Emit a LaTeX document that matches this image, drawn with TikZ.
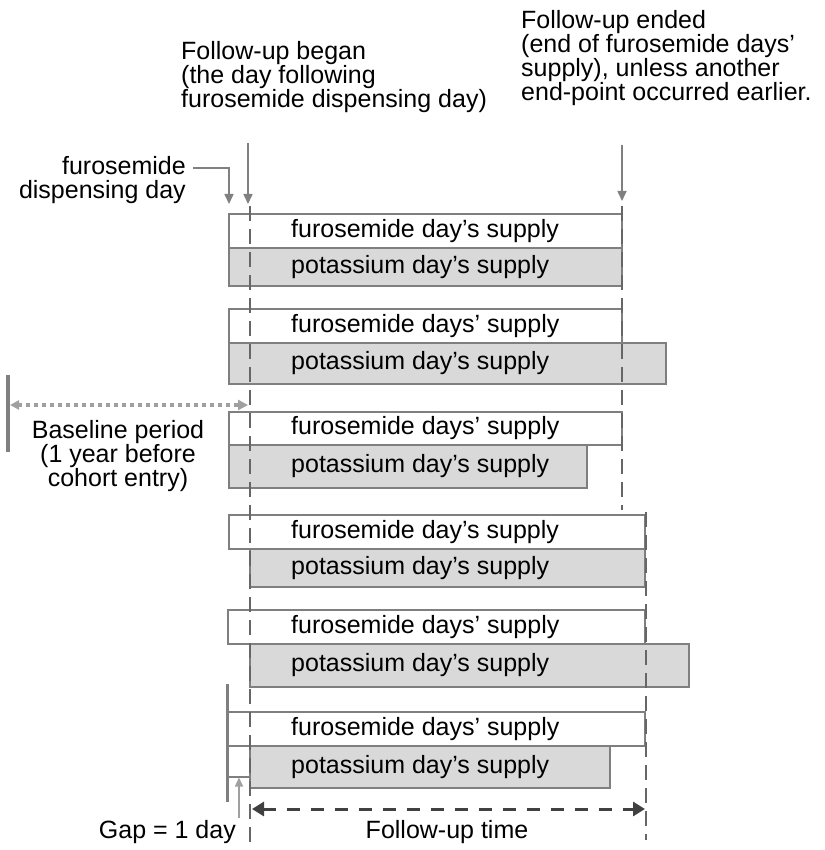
\documentclass[tikz,border=0pt]{standalone}
\usepackage{fontspec}
\setmainfont{Liberation Sans}
\usetikzlibrary{arrows.meta}
\definecolor{boxgray}{HTML}{7F7F7F}
\definecolor{fillgray}{HTML}{D9D9D9}
\definecolor{dashgray}{HTML}{666666}
\definecolor{arrowgray}{HTML}{808080}
\definecolor{lightarrow}{HTML}{A0A0A0}
\definecolor{darkline}{HTML}{404040}
\begin{document}
\begin{tikzpicture}[x=1pt,y=-1pt,
  every node/.style={font=\fontsize{25}{24}\selectfont, inner sep=0pt},
  furbox/.style={draw=boxgray, line width=1.8pt, fill=white},
  potbox/.style={draw=boxgray, line width=1.8pt, fill=fillgray},
  boxtext/.style={anchor=west, text height=17pt, text depth=5pt},
  vdash/.style={draw=dashgray, line width=2.8pt, dash pattern=on 15pt off 8pt},
  thinarrow/.style={draw=arrowgray, line width=1.6pt, -{Triangle[length=10pt,width=9pt]}},
]
\useasboundingbox (0,0) rectangle (824,850);

% ---- top labels (base anchor = baseline of last line)
\node[anchor=base west, align=left] (began) at (181,108)
  {Follow-up began\\(the day following\\furosemide dispensing day)};
\node[anchor=base west, align=left] (ended) at (521,100.5)
  {Follow-up ended\\(end of furosemide days’\\supply), unless another\\end-point occurred earlier.};
\node[anchor=base east, align=right] (disp) at (186,199)
  {furosemide\\dispensing day};

% ---- boxes row 1
\path[furbox] (229,214) rectangle (622,248);
\path[potbox] (229,248) rectangle (622,286);
\node[boxtext] (f1) at (291,231) {furosemide day’s supply};
\node[boxtext] (p1) at (291,267) {potassium day’s supply};
% row 2
\path[furbox] (229,309) rectangle (622,343);
\path[potbox] (229,343) rectangle (666,384);
\node[boxtext] (f2) at (291,326) {furosemide days’ supply};
\node[boxtext] (p2) at (291,363.5) {potassium day’s supply};
% row 3
\path[furbox] (229,412) rectangle (622,445);
\path[potbox] (229,445) rectangle (587,488);
\node[boxtext] (f3) at (291,428.5) {furosemide days’ supply};
\node[boxtext] (p3) at (291,466.5) {potassium day’s supply};
% row 4
\path[furbox] (229,515) rectangle (645,549);
\path[potbox] (250,549) rectangle (645,587);
\node[boxtext] (f4) at (291,532) {furosemide day’s supply};
\node[boxtext] (p4) at (291,568) {potassium day’s supply};
% row 5
\path[furbox] (228,610) rectangle (645,644);
\path[potbox] (250,644) rectangle (689,687);
\node[boxtext] (f5) at (291,627) {furosemide days’ supply};
\node[boxtext] (p5) at (291,665.5) {potassium day’s supply};
% row 6
\path[furbox] (228,712) rectangle (645,746);
\path[potbox] (250,746) rectangle (610,788);
\node[boxtext] (f6) at (291,729) {furosemide days’ supply};
\node[boxtext] (p6) at (291,767) {potassium day’s supply};

% ---- vertical dashed reference lines
\coordinate (startTop) at (250,206);
\coordinate (startBot) at (250,846);
\coordinate (endTopA) at (622,206);
\coordinate (endBotA) at (622,510);
\coordinate (endTopB) at (646,512);
\coordinate (endBotB) at (646,840);
\draw[vdash] (startTop) -- (startBot);
\draw[vdash] (endTopA) -- (endBotA);
\draw[vdash] (endTopB) -- (endBotB);

% ---- arrows from top labels
\coordinate (beganTop) at (248,143);
\coordinate (beganTip) at (248,204);
\draw[thinarrow] (beganTop) -- (beganTip);
\coordinate (endedTop) at (622,145);
\coordinate (endedTip) at (622,201);
\draw[thinarrow] (endedTop) -- (endedTip);
\coordinate (dispTip) at (229,204);
\coordinate (dispStart) at (193,168);
\draw[thinarrow] (dispStart) -- (229,168) -- (dispTip);

% ---- baseline period
\coordinate (blBarTop) at (8,375);
\coordinate (blBarBot) at (8,452);
\draw[draw=arrowgray, line width=4pt] (blBarTop) -- (blBarBot);
\coordinate (blL) at (10,405);
\coordinate (blR) at (248,405);
\draw[draw=lightarrow, line width=3.2pt, dash pattern=on 3.5pt off 4.5pt,
  {Triangle[length=9pt,width=9pt]}-{Triangle[length=10pt,width=10pt]}] (blL) -- (blR);
\node[align=center, anchor=base] (blText) at (118,486)
  {Baseline period\\(1 year before\\cohort entry)};

% ---- gap = 1 day
\coordinate (gapBarTop) at (227,684);
\coordinate (gapBarBot) at (227,802);
\draw[draw=boxgray, line width=3pt] (gapBarTop) -- (gapBarBot);
\coordinate (gapL) at (227,777);
\coordinate (gapR) at (250,777);
\draw[draw=boxgray, line width=2pt] (gapL) -- (gapR);
\coordinate (gapArrowBot) at (239,818);
\coordinate (gapArrowTip) at (239,777.5);
\draw[draw=lightarrow, line width=1.5pt, -{Triangle[length=9pt,width=8pt]}] (gapArrowBot) -- (gapArrowTip);
\node[anchor=base east] (gapText) at (236,838) {Gap = 1 day};

% ---- follow-up time
\coordinate (fuL) at (252,809);
\coordinate (fuR) at (645,809);
\draw[draw=darkline, line width=3pt, dash pattern=on 13pt off 11pt,
  {Triangle[length=12pt,width=14pt]}-{Triangle[length=12pt,width=14pt]}] (fuL) -- (fuR);
\node[anchor=base] (fuText) at (447,838) {Follow-up time};
\end{tikzpicture}
\end{document}
